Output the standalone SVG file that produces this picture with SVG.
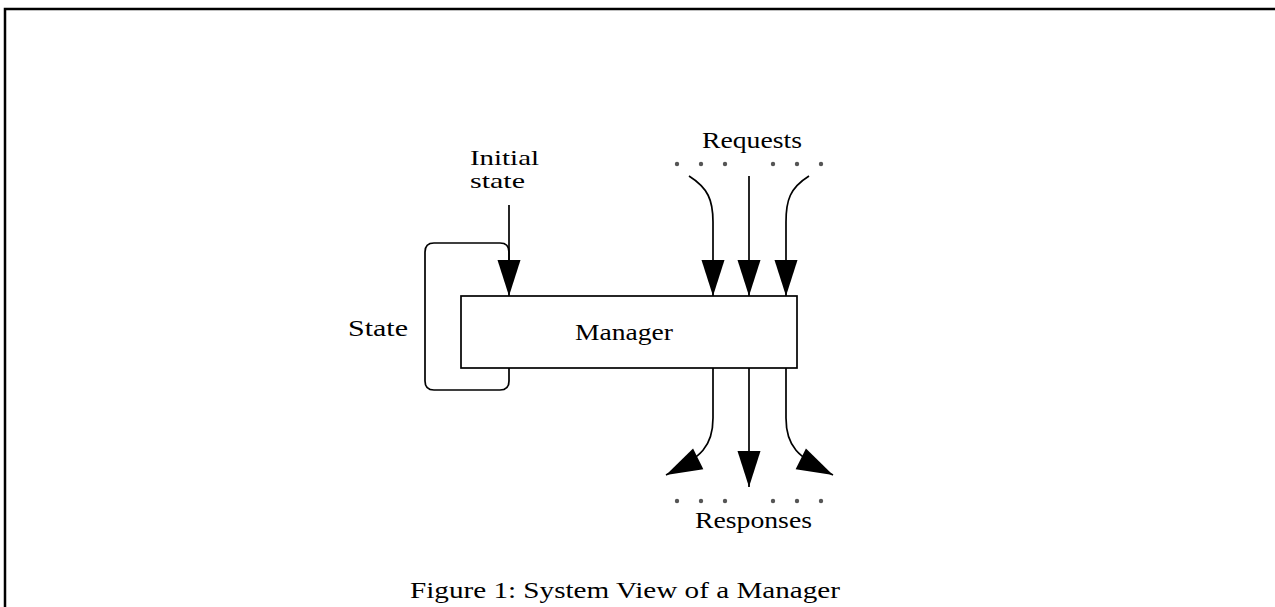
<svg xmlns="http://www.w3.org/2000/svg" width="1275" height="607" viewBox="0 0 1275 607">
<style>
.t{font-family:"Liberation Serif","DejaVu Serif",serif;font-size:24px;fill:#000}
.s{font-size:21px}
.ln{fill:none;stroke:#000;stroke-width:1.7}
.dot{fill:#555}
</style>
<defs>
<marker id="ah" markerUnits="userSpaceOnUse" markerWidth="40" markerHeight="26" viewBox="0 -13 37 26" refX="36" refY="0" orient="auto">
<path d="M0,-11.5 L36,0 L0,11.5 z" fill="#000"/>
</marker>
</defs>
<rect width="1275" height="607" fill="#fff"/>
<path d="M5,607 L5,9 L1275,9" fill="none" stroke="#000" stroke-width="2.5"/>
<g id="manager">
<rect x="461" y="296" width="336" height="72" fill="#fff" stroke="#000" stroke-width="1.7"/>
<text class="t" x="575" y="340" textLength="98" lengthAdjust="spacingAndGlyphs">Manager</text>
</g>
<g id="state">
<text class="t" x="348" y="336" textLength="60" lengthAdjust="spacingAndGlyphs">State</text>
</g>
<g id="initial-state">
<text class="t s" x="470" y="165" textLength="69" lengthAdjust="spacingAndGlyphs">Initial</text>
<text class="t s" x="470" y="188" textLength="55" lengthAdjust="spacingAndGlyphs">state</text>
</g>
<g id="requests">
<text class="t" x="702" y="148" textLength="100" lengthAdjust="spacingAndGlyphs">Requests</text>
<circle class="dot" cx="677" cy="164" r="2.2"/><circle class="dot" cx="701" cy="164" r="2.2"/><circle class="dot" cx="725" cy="164" r="2.2"/>
<circle class="dot" cx="773" cy="164" r="2.2"/><circle class="dot" cx="797" cy="164" r="2.2"/><circle class="dot" cx="821" cy="164" r="2.2"/>
</g>
<g id="responses">
<text class="t" x="695" y="528" textLength="117" lengthAdjust="spacingAndGlyphs">Responses</text>
<circle class="dot" cx="677" cy="501" r="2.2"/><circle class="dot" cx="701" cy="501" r="2.2"/><circle class="dot" cx="725" cy="501" r="2.2"/>
<circle class="dot" cx="773" cy="501" r="2.2"/><circle class="dot" cx="797" cy="501" r="2.2"/><circle class="dot" cx="821" cy="501" r="2.2"/>
</g>
<g id="caption">
<text class="t" x="410" y="598" textLength="430" lengthAdjust="spacingAndGlyphs">Figure 1: System View of a Manager</text>
</g>
<g id="connectors">
<path class="ln" d="M509,368 L509,381 Q509,390 500,390 L434,390 Q425,390 425,381 L425,252 Q425,243 434,243 L500,243 Q509,243 509,252 L509,262"/>
<path class="ln" d="M509,205 L509,296" marker-end="url(#ah)"/>
<path class="ln" d="M689,176 C708,188 713,200 713,222 L713,296" marker-end="url(#ah)"/>
<path class="ln" d="M749,176 L749,296" marker-end="url(#ah)"/>
<path class="ln" d="M809,176 C790,188 786,200 786,222 L786,296" marker-end="url(#ah)"/>
<path class="ln" d="M713,368 L713,418 C713,446 702,457 666,475" marker-end="url(#ah)"/>
<path class="ln" d="M749,368 L749,487" marker-end="url(#ah)"/>
<path class="ln" d="M786,368 L786,418 C786,446 797,457 833,475" marker-end="url(#ah)"/>
</g>
</svg>
